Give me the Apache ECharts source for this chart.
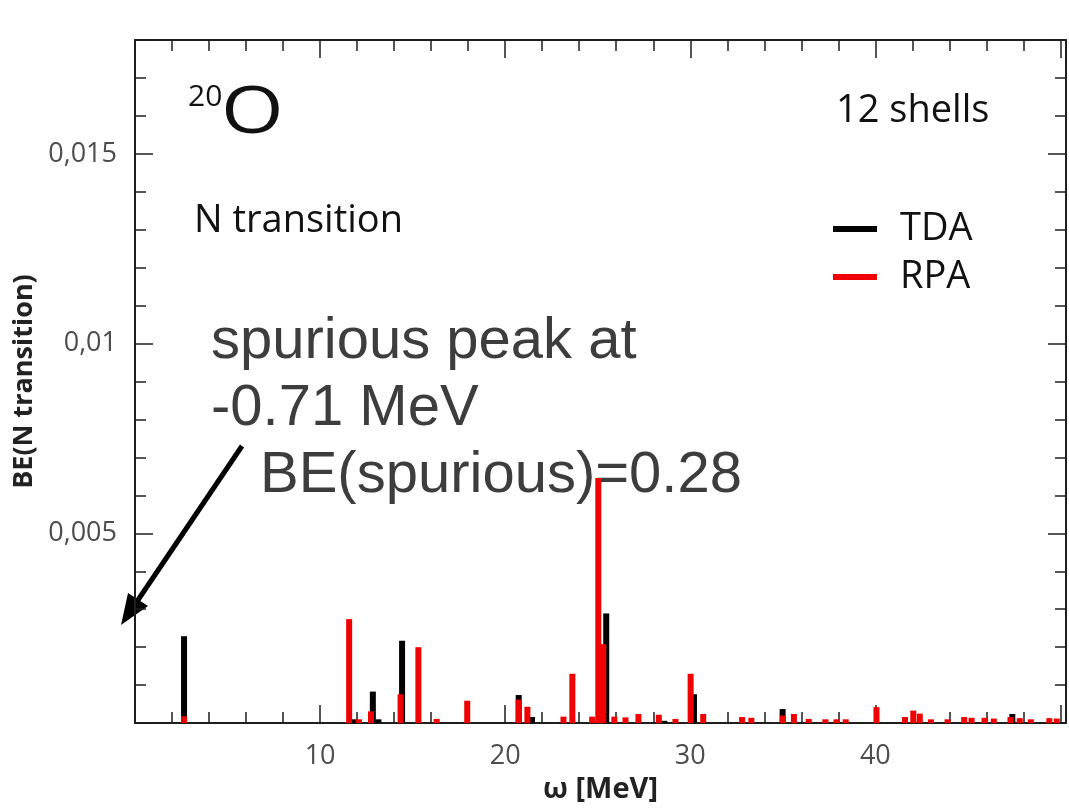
<!DOCTYPE html>
<html>
<head>
<meta charset="utf-8">
<script src="https://cdn.jsdelivr.net/npm/echarts@6/dist/echarts.min.js"></script>
<style>
html,body{margin:0;padding:0;background:#fff;}
#chart{width:1069px;height:809px;}
</style>
</head>
<body>
<div id="chart"></div>
<script>
// ---- data ----
const tdaEnergy = [2.65, 11.8, 12.85, 13.15, 14.43, 20.73, 21.45, 25.46, 28.6, 30.2, 34.99, 47.4];
const tdaValue  = [0.00229, 0.0001, 0.00083, 0.0001, 0.00217, 0.00074, 0.00016, 0.00289, 0.00006, 0.00076, 0.00037, 0.00024];

const rpaEnergy = [2.65, 11.57, 12.1, 12.75, 14.35, 15.31, 16.3, 17.95, 20.73, 21.2, 23.15, 23.63,
                   24.7, 25.03, 25.3, 25.9, 26.5, 27.2, 28.3, 29.2, 30.02, 30.7, 32.8, 33.3,
                   35.0, 35.6, 36.4, 37.3, 37.9, 38.4, 40.06, 41.6, 42.05, 42.4, 43.0, 43.9,
                   44.8, 45.2, 45.9, 46.4, 47.3, 47.8, 48.4, 49.4, 49.8];
const rpaValue  = [0.00018, 0.00274, 0.0001, 0.00031, 0.00076, 0.0020, 0.00011, 0.00059, 0.00062, 0.00043, 0.00017, 0.0013,
                   0.00017, 0.00646, 0.00208, 0.00017, 0.00015, 0.00024, 0.00022, 0.00011, 0.0013, 0.00024, 0.00016, 0.00014,
                   0.0002, 0.00024, 0.00011, 0.0001, 0.0001, 0.0001, 0.00042, 0.00016, 0.00033, 0.00025, 0.0001, 0.0001,
                   0.00016, 0.00014, 0.00014, 0.00012, 0.00016, 0.00013, 0.0001, 0.00013, 0.00012];

const xTickLabels = [10, 20, 30, 40];
const yTickLabels = ['0,005', '0,01', '0,015'];

const seriesNames = ['TDA', 'RPA'];
const xName = 'ω [MeV]';
const yName = 'BE(N transition)';

// ---- chart ----
const chart = echarts.init(document.getElementById('chart'));
const AX = '#1e1e1e';
const X_MIN = 0, X_MAX = 50.3, Y_MIN = 0, Y_MAX = 0.018;

function xLabel(v) {
  const r = Math.round(v);
  return (Math.abs(v - r) < 1e-6 && xTickLabels.indexOf(r) >= 0) ? String(r) : '';
}
function yLabel(v) {
  const k = Math.round(v / 0.005);
  if (k < 1 || k > 3 || Math.abs(v - k * 0.005) > 1e-9) return '';
  return yTickLabels[k - 1];
}

function xAx(pos, interval, len, main) {
  return {
    type: 'value', position: pos, min: X_MIN, max: X_MAX, interval: interval,
    axisLine: { show: main, onZero: false, lineStyle: { color: AX, width: 2 } },
    axisTick: { show: true, inside: true, length: len, lineStyle: { color: AX, width: 1.5 } },
    axisLabel: { show: main && pos === 'bottom', formatter: xLabel, color: '#4d4d4d', fontSize: 27,
                 fontFamily: 'Open Sans', margin: 20 },
    splitLine: { show: false },
    name: (main && pos === 'bottom') ? xName : '',
    nameLocation: 'middle', nameGap: 50,
    nameTextStyle: { fontSize: 29, fontWeight: 'bold', color: '#222', fontFamily: 'Open Sans' }
  };
}
function yAx(pos, interval, len, main) {
  return {
    type: 'value', position: pos, min: Y_MIN, max: Y_MAX, interval: interval,
    axisLine: { show: main, onZero: false, lineStyle: { color: AX, width: 2 } },
    axisTick: { show: true, inside: true, length: len, lineStyle: { color: AX, width: 1.5 } },
    axisLabel: { show: main && pos === 'left', formatter: yLabel, color: '#4d4d4d', fontSize: 27,
                 fontFamily: 'Open Sans', margin: 18 },
    splitLine: { show: false },
    name: (main && pos === 'left') ? yName : '',
    nameLocation: 'middle', nameGap: 91, nameRotate: 90,
    nameTextStyle: { fontSize: 27, fontWeight: 'bold', color: '#222', fontFamily: 'Open Sans' }
  };
}

const pairs = (xs, ys) => xs.map((x, i) => [x, ys[i]]);

const option = {
  backgroundColor: '#fff',
  animation: false,
  grid: { left: 135, right: -3, top: 40, bottom: 78, containLabel: false },
  xAxis: [
    xAx('bottom', 10, 18, true),
    xAx('bottom', 2, 11, false),
    xAx('top', 10, 18, true),
    xAx('top', 2, 11, false)
  ],
  yAxis: [
    yAx('left', 0.005, 18, true),
    yAx('left', 0.001, 11, false),
    yAx('right', 0.005, 18, true),
    yAx('right', 0.001, 11, false)
  ],
  legend: {
    orient: 'vertical', left: 833, top: 210, padding: 0, itemGap: 10,
    itemWidth: 44, itemHeight: 6, icon: 'rect',
    textStyle: { fontSize: 38, color: '#111', fontFamily: 'Open Sans', padding: [0, 0, 0, 18] },
    data: seriesNames
  },
  series: [
    { name: seriesNames[0], type: 'bar', xAxisIndex: 0, yAxisIndex: 0, barWidth: 6, barGap: '-100%',
      itemStyle: { color: '#000' }, data: pairs(tdaEnergy, tdaValue) },
    { name: seriesNames[1], type: 'bar', xAxisIndex: 0, yAxisIndex: 0, barWidth: 6, barGap: '-100%',
      itemStyle: { color: '#f00000' }, data: pairs(rpaEnergy, rpaValue) }
  ],
  graphic: [
    { type: 'text', left: 188, top: 82, style: { text: '20', font: '30px "Open Sans"', fill: '#111' } },
    { type: 'text', x: 221, y: 81, scaleX: 1.22, style: { text: 'O', font: '66px "Open Sans"', fill: '#111' } },
    { type: 'text', left: 836, top: 92, style: { text: '12 shells', font: '38px "Open Sans"', fill: '#111' } },
    { type: 'text', left: 194, top: 202, style: { text: 'N transition', font: '38px "Open Sans"', fill: '#111' } },
    { type: 'text', left: 211, top: 313, style: { text: 'spurious peak at', font: '58px "Liberation Sans"', fill: '#3d3d3d' } },
    { type: 'text', left: 211, top: 380, style: { text: '-0.71 MeV', font: '58px "Liberation Sans"', fill: '#3d3d3d' } },
    { type: 'text', left: 260, top: 447, style: { text: 'BE(spurious)=0.28', font: '58px "Liberation Sans"', fill: '#3d3d3d' } },
    { type: 'line', shape: { x1: 242, y1: 446, x2: 138, y2: 600 }, style: { stroke: '#000', lineWidth: 5 } },
    { type: 'polygon', shape: { points: [[121, 625], [148, 606], [128, 593]] }, style: { fill: '#000' } }
  ]
};
chart.setOption(option);
</script>
</body>
</html>
